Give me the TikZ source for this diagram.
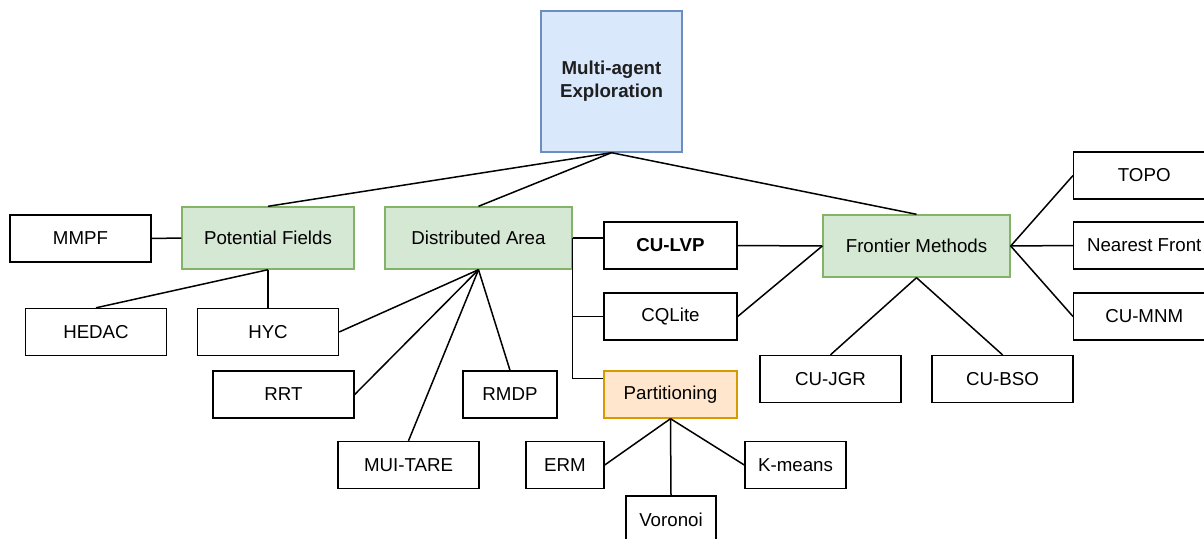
\documentclass[tikz,border=0pt]{standalone}
\usepackage{fontspec}
\setmainfont{Liberation Sans}
\usetikzlibrary{calc}
\definecolor{bluefill}{HTML}{DAE8FC}
\definecolor{bluedraw}{HTML}{6C8EBF}
\definecolor{greenfill}{HTML}{D5E8D4}
\definecolor{greendraw}{HTML}{82B366}
\definecolor{orangefill}{HTML}{FFE6CC}
\definecolor{orangedraw}{HTML}{D79B00}
\begin{document}
\begin{tikzpicture}[x=1pt,y=-1pt,
  box/.style={draw=black,line width=1.4pt,fill=white,inner sep=0pt,align=center,
    font=\fontsize{18.7}{23}\selectfont,minimum width=141pt,minimum height=47pt},
  greenbox/.style={box,draw=greendraw,fill=greenfill,minimum height=62pt},
  link/.style={line width=1.5pt,draw=black}]
\useasboundingbox (0,0) rectangle (1204,538);
% root
\node[box,draw=bluedraw,fill=bluefill,minimum width=141pt,minimum height=141pt,font=\fontsize{18.7}{23}\selectfont\bfseries,text=black!88] (root) at (611.5,81.5) {Multi-agent\\Exploration};
% green
\node[greenbox,minimum width=172pt] (pf) at (268,238) {Potential Fields};
\node[greenbox,minimum width=187pt] (da) at (478.5,238) {Distributed Area};
\node[greenbox,minimum width=187pt] (fm) at (916.5,246) {Frontier Methods};
% leaves
\node[box] (mmpf) at (80.5,238.5) {MMPF};
\node[box] (hedac) at (96,332) {HEDAC};
\node[box] (hyc) at (268,332) {HYC};
\node[box] (rrt) at (283.5,394.5) {RRT};
\node[box] (mui) at (408.5,465) {MUI-TARE};
\node[box,minimum width=94pt] (rmdp) at (510,394.5) {RMDP};
\node[box,minimum width=133pt,font=\fontsize{18.7}{23}\selectfont\bfseries] (culvp) at (670.5,245.5) {CU-LVP};
\node[box,minimum width=133pt] (cqlite) at (670.5,316.5) {CQLite};
\node[box,minimum width=133pt,draw=orangedraw,fill=orangefill] (part) at (670.5,394.5) {Partitioning};
\node[box,minimum width=78pt] (erm) at (565,465) {ERM};
\node[box,minimum width=101pt] (kmeans) at (795.5,465) {K-means};
\node[box,minimum width=90pt] (voronoi) at (671,519.5) {Voronoi};
\node[box] (cujgr) at (830.5,379) {CU-JGR};
\node[box] (cubso) at (1002.5,379) {CU-BSO};
\node[box,anchor=west] (topo) at (1073,175.5) {TOPO};
\node[box,anchor=west] (nf) at (1073,245.5) {Nearest Front};
\node[box,anchor=west] (cumnm) at (1073,316.5) {CU-MNM};
% connectors
\draw[link] (root.south) -- (pf.north);
\draw[link] (root.south) -- (da.north);
\draw[link] (root.south) -- (fm.north);
\draw[link] (mmpf.east) -- (pf.west);
\draw[link] (pf.south) -- (hedac.north);
\draw[link] (pf.south) -- (hyc.north);
\draw[link] (da.south) -- (hyc.east);
\draw[link] (da.south) -- (rrt.east);
\draw[link] (da.south) -- (mui.north);
\draw[link] (da.south) -- (rmdp.north);
\draw[link] (da.east) -- (da.east -| culvp.west);
\draw[link] (da.east) |- (cqlite.west);
\draw[link] (da.east) |- ($(part.north west)+(0,8)$);
\draw[link] (culvp.east) -- (fm.west);
\draw[link] (cqlite.east) -- (fm.west);
\draw[link] (fm.south) -- (cujgr.north);
\draw[link] (fm.south) -- (cubso.north);
\draw[link] (fm.east) -- (topo.west);
\draw[link] (fm.east) -- (nf.west);
\draw[link] (fm.east) -- (cumnm.west);
\draw[link] (part.south) -- (erm.east);
\draw[link] (part.south) -- (voronoi.north);
\draw[link] (part.south) -- (kmeans.west);
\end{tikzpicture}
\end{document}
